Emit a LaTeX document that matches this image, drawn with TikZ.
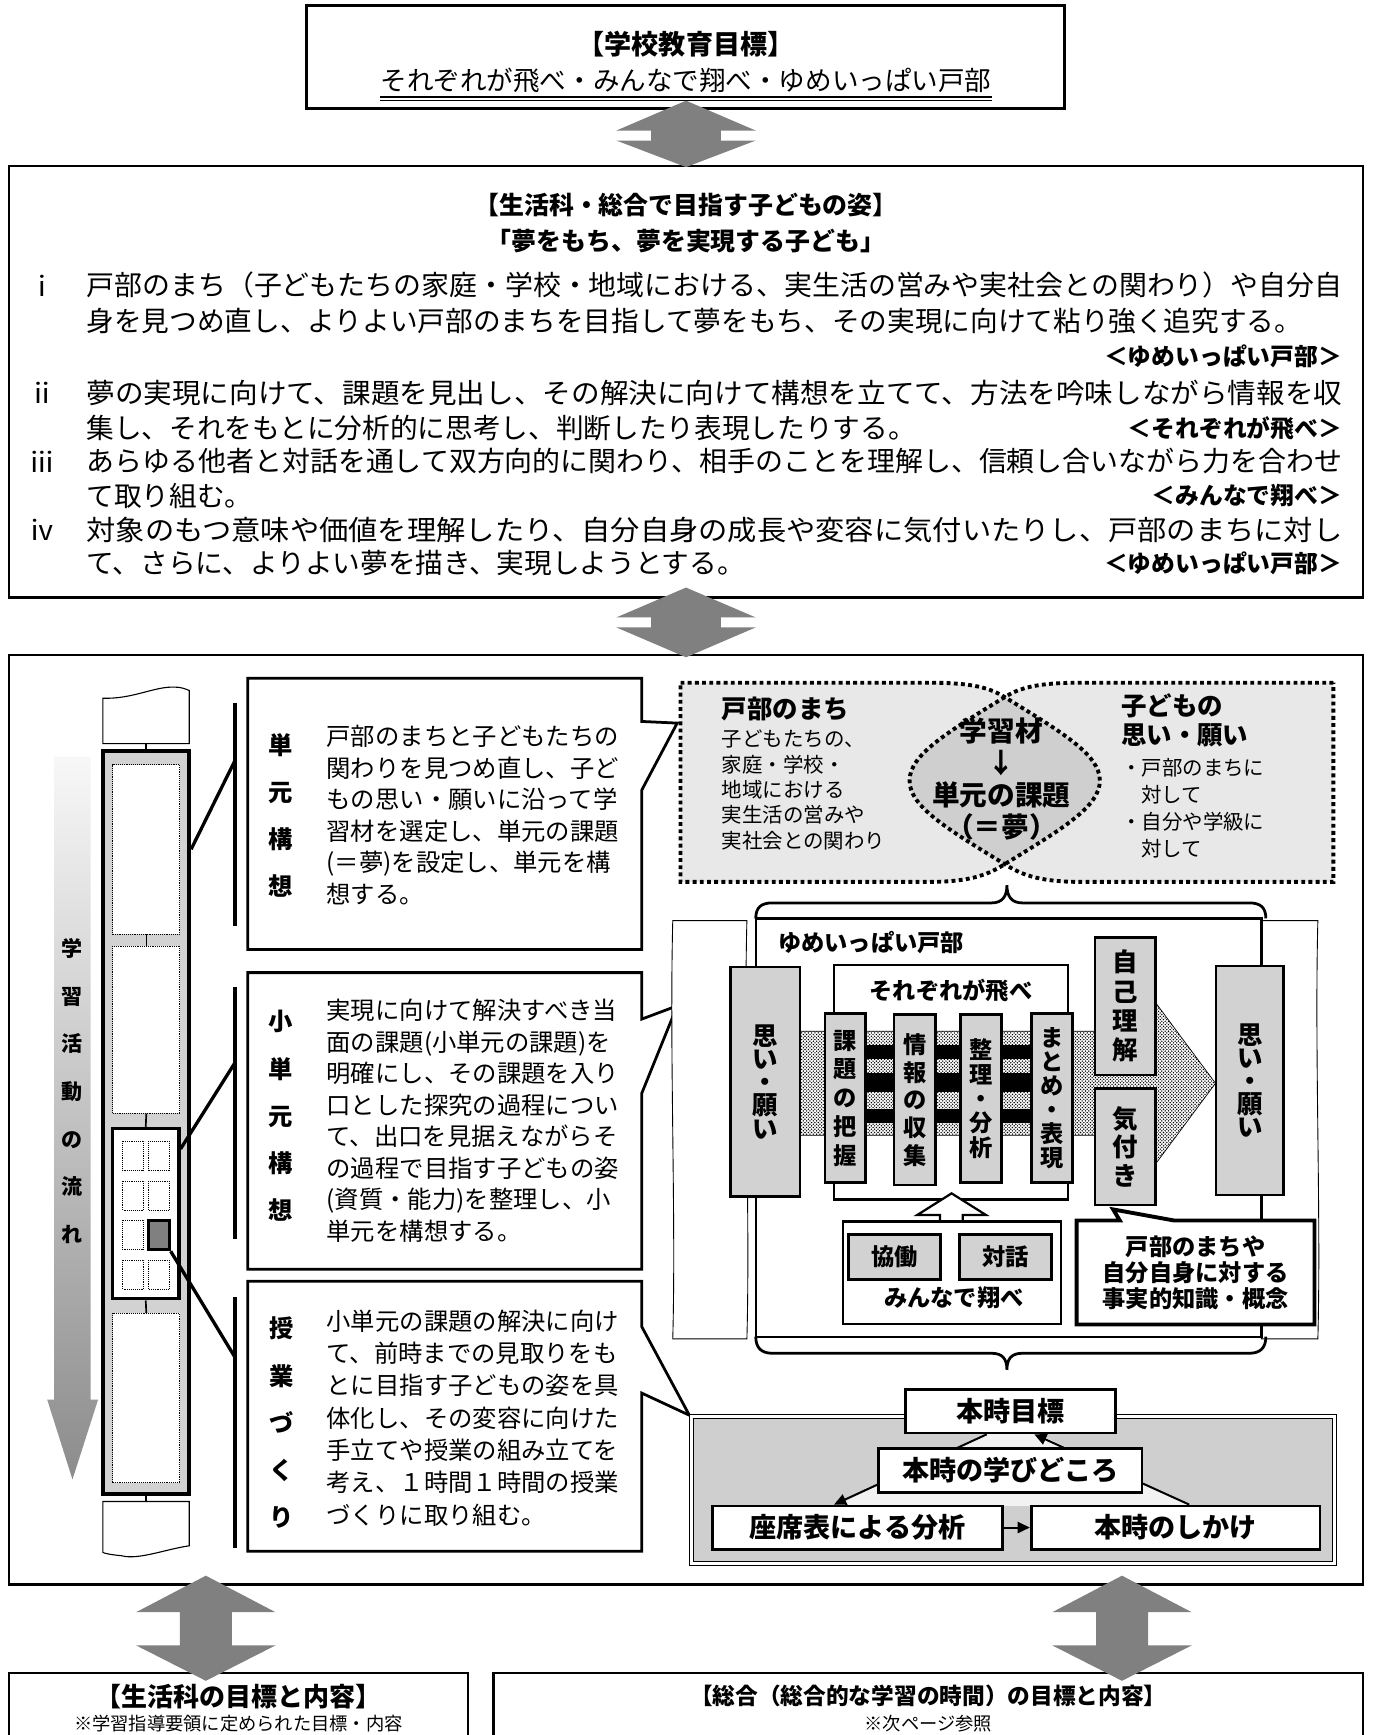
\documentclass[tikz,border=0pt]{standalone}
\usepackage{fontspec}
\usepackage{graphicx}
\setmainfont{Noto Sans CJK JP}
\usetikzlibrary{positioning}
\usetikzlibrary{arrows.meta,shapes}
\usetikzlibrary{patterns}
\usetikzlibrary{calc}
\newcommand{\fsz}[2]{\fontsize{#1pt}{#2pt}\selectfont}
\newcommand{\fullline}[1]{\resizebox{1135pt}{\height}{#1}}
\pgfdeclarepatternformonly{stipple}{\pgfqpoint{-1pt}{-1pt}}{\pgfqpoint{4pt}{4pt}}{\pgfqpoint{3pt}{3pt}}%
{\pgfpathcircle{\pgfqpoint{0pt}{0pt}}{.7pt}\pgfpathcircle{\pgfqpoint{1.5pt}{1.5pt}}{.7pt}\pgfusepath{fill}}

\tikzstyle{bigbox}=[draw,line width=2pt,fill=white,inner sep=0pt]
\tikzstyle{txt}=[inner sep=0pt]
\tikzstyle{bodytext}=[txt,font=\fsz{25}{30}]
\tikzstyle{tagtext}=[txt,font=\bfseries\fsz{21.5}{25}]
\tikzstyle{headtext}=[txt,font=\bfseries\fsz{22.5}{26}]
\tikzstyle{twoway}=[fill=black!50]
\tikzstyle{dotbox}=[draw,densely dotted,line width=0.7pt,fill=white,inner sep=0pt]
\tikzstyle{tiebar}=[draw,line width=3.5pt]
\tikzstyle{callbox}=[draw,line width=2.5pt,fill=white]
\tikzstyle{calltext}=[txt,align=left,font=\fsz{22}{28.5}]
\tikzstyle{vlabel}=[txt,align=center,font=\bfseries\fsz{22}{42.7}]
\tikzstyle{stepbox}=[draw,line width=2.5pt,fill=gray!35,inner sep=0pt,align=center]
\tikzstyle{whitebox}=[draw,line width=2pt,fill=white,inner sep=0pt]
\tikzstyle{cyclenode}=[draw,line width=2.5pt,fill=white,inner sep=0pt,font=\bfseries\fsz{24.5}{28}]
\tikzstyle{cycarrow}=[draw,line width=1.8pt,-{Triangle[length=11pt,width=10pt]}]
\tikzstyle{dotline}=[draw,line width=3.5pt,dash pattern=on 3.5pt off 3pt]

\def\townpath{(615,617) -- (840,617) .. controls (880,617) and (895,622) .. (908,630) .. controls (960,662) and (994,682) .. (994,705.5) .. controls (994,729) and (960,749) .. (908,781) .. controls (895,789) and (880,797) .. (840,797) -- (615,797) -- cycle}
\def\kidpath{(1205,617) -- (976,617) .. controls (936,617) and (921,622) .. (908,630) .. controls (856,662) and (822,682) .. (822,705.5) .. controls (822,729) and (856,749) .. (908,781) .. controls (921,789) and (936,797) .. (976,797) -- (1205,797) -- cycle}

\begin{document}
\begin{tikzpicture}[x=1pt,y=-1pt]
\useasboundingbox (0,0) rectangle (1240,1568);

% school goal
\node[bigbox,minimum width=685pt,minimum height=93pt] (school) at (619.5,51.5) {};
\node[txt,font=\bfseries\fsz{24.5}{28}] (schooltitle) at (620,40) {【学校教育目標】};
\node[txt,font=\fsz{24}{26}] (motto) at (620,73) {それぞれが飛べ・みんなで翔べ・ゆめいっぱい戸部};
\draw[line width=2pt] ([yshift=-3pt]motto.south west) -- ([yshift=-3pt]motto.south east);
\draw[line width=0.8pt] ([yshift=-6.5pt]motto.south west) -- ([yshift=-6.5pt]motto.south east);

% aims of the child
\node[bigbox,minimum width=1224pt,minimum height=390pt] (aim) at (620,345) {};
\node[headtext] (aimtitle) at (620,185) {【生活科・総合で目指す子どもの姿】};
\node[headtext] (aimdream) at (620,218) {「夢をもち、夢を実現する子ども」};
\foreach \y/\name/\mark in {258/m1/ⅰ, 355/m2/ⅱ, 417/m3/ⅲ, 479/m4/ⅳ}
    \node[bodytext] (\name) at (38,\y) {\mark};
\node[bodytext,anchor=west] (a1) at (78,258) {\fullline{戸部のまち（子どもたちの家庭・学校・地域における、実生活の営みや実社会との関わり）や自分自}};
\node[bodytext,anchor=west] (a2) at (78,290) {身を見つめ直し、よりよい戸部のまちを目指して夢をもち、その実現に向けて粘り強く追究する。};
\node[tagtext,anchor=east] (t1) at (1213,322) {＜ゆめいっぱい戸部＞};
\node[bodytext,anchor=west] (b1) at (78,355) {\fullline{夢の実現に向けて、課題を見出し、その解決に向けて構想を立てて、方法を吟味しながら情報を収}};
\node[bodytext,anchor=west] (b2) at (78,387) {集し、それをもとに分析的に思考し、判断したり表現したりする。};
\node[tagtext,anchor=east] (t2) at (1213,387) {＜それぞれが飛べ＞};
\node[bodytext,anchor=west] (c1) at (78,417) {\fullline{あらゆる他者と対話を通して双方向的に関わり、相手のことを理解し、信頼し合いながら力を合わせ}};
\node[bodytext,anchor=west] (c2) at (78,448) {て取り組む。};
\node[tagtext,anchor=east] (t3) at (1213,448) {＜みんなで翔べ＞};
\node[bodytext,anchor=west] (d1) at (78,479) {\fullline{対象のもつ意味や価値を理解したり、自分自身の成長や変容に気付いたりし、戸部のまちに対し}};
\node[bodytext,anchor=west] (d2) at (78,509) {て、さらに、よりよい夢を描き、実現しようとする。};
\node[tagtext,anchor=east] (t4) at (1213,509) {＜ゆめいっぱい戸部＞};

% flow of the unit
\node[bigbox,minimum width=1224pt,minimum height=840pt] (flow) at (620,1012) {};

% subject boxes
\node[bigbox,minimum width=415pt,minimum height=100pt] (life) at (215.5,1562) {};
\node[headtext,font=\bfseries\fsz{23.5}{26}] (lifetitle) at (215.5,1533) {【生活科の目標と内容】};
\node[txt,font=\fsz{16.5}{20}] (lifenote) at (215.5,1558) {※学習指導要領に定められた目標・内容};
\node[bigbox,minimum width=786pt,minimum height=100pt] (sogo) at (839,1562) {};
\node[headtext,font=\bfseries\fsz{20.5}{24}] (sogotitle) at (839,1533) {【総合（総合的な学習の時間）の目標と内容】};
\node[txt,font=\fsz{16.5}{20}] (sogonote) at (839,1558) {※次ページ参照};

% two-way arrows
\foreach \cx/\w/\ya/\yb/\yc/\yd in {620/31.5/91/118/127/151, 620/31.5/531/558/567/594, 186/23.5/1424/1457/1487/1519, 1014/23.5/1424/1457/1487/1519}
    \fill[twoway] (\cx,\ya) -- (\cx+63,\yb) -- (\cx+\w,\yb) -- (\cx+\w,\yc) -- (\cx+63,\yc) -- (\cx,\yd) -- (\cx-63,\yc) -- (\cx-\w,\yc) -- (\cx-\w,\yb) -- (\cx-63,\yb) -- cycle;

% learning flow arrow and the strip of units
\shade[top color=gray!6,bottom color=black!45] (49,684) -- (82,684) -- (82,1265) -- (88.6,1265) -- (65.5,1337) -- (42.7,1265) -- (49,1265) -- cycle;
\node[txt,align=center,font=\bfseries\fsz{19}{43}] (flowlbl) at (65.5,986) {学\\習\\活\\動\\の\\流\\れ};

\draw[line width=1pt,fill=white] (93,672) -- (93,631) .. controls (120,632) and (140,620) .. (158,621) .. controls (165,621) and (168,623) .. (171,624) -- (171,672) -- cycle;
\coordinate (toptab) at (132,672);
\draw[line width=1pt,fill=white] (93,1357) -- (171,1357) -- (171,1397) .. controls (150,1400) and (125,1410) .. (110,1406) .. controls (100,1405) and (95,1404) .. (93,1403) -- cycle;
\coordinate (bottab) at (132,1357);
\node[draw,line width=3.5pt,fill=gray!35,minimum width=78pt,minimum height=671pt,inner sep=0pt] (col) at (132,1014.5) {};
\draw[line width=1.5pt] (toptab) -- (col.north);
\draw[line width=1.5pt] (col.south) -- (bottab);
\node[dotbox,minimum width=60.5pt,minimum height=153pt] (r1) at (132.25,767.5) {};
\node[dotbox,minimum width=60.5pt,minimum height=151pt] (r2) at (132.25,930.5) {};
\node[draw,line width=3pt,fill=white,minimum width=60pt,minimum height=154pt,inner sep=0pt] (fr) at (131.7,1096.8) {};
\node[dotbox,minimum width=60.5pt,minimum height=153pt] (r4) at (132.25,1263.5) {};
\draw[line width=1.5pt] (r1.south) -- (r2.north);
\draw[line width=1.5pt] (r2.south) -- (fr.north);
\draw[line width=1.5pt] (fr.south) -- (r4.north);
\foreach \r in {0,...,3}
    \foreach \c in {0,1}
        \draw[densely dotted,line width=0.7pt] (111+23*\c,1031.6+35.7*\r) rectangle ++(19,26.5);
\node[draw,line width=2.5pt,fill=black!50,minimum width=19pt,minimum height=26.5pt,inner sep=0pt] (hot) at (143.5,1116.3) {};

% bars and callouts
\draw[tiebar] (212,635) -- (212,837);
\draw[tiebar] (212,892) -- (212,1120);
\draw[tiebar] (212,1172) -- (212,1399);
\coordinate (b1) at (212,688);
\coordinate (b2) at (212,961);
\coordinate (b3) at (212,1226);
\draw[line width=3pt] (col.east |- r1.east) -- (b1);
\draw[line width=3pt] ([yshift=-20pt]fr.north east) -- (b2);
\draw[line width=3pt] (hot.south east) -- (b3);

\draw[callbox] (224,613) -- (580,613) -- (580,652) -- (612,653.5) -- (580,714) -- (580,858) -- (224,858) -- cycle;
\draw[callbox] (224,879) -- (580,879) -- (580,921) -- (612,909) -- (580,988) -- (580,1147) -- (224,1147) -- cycle;
\draw[callbox] (224,1158) -- (580,1158) -- (580,1199) -- (623,1279) -- (580,1259) -- (580,1402) -- (224,1402) -- cycle;

\node[vlabel] (unit) at (254,737) {単\\元\\構\\想};
\node[vlabel] (subunit) at (254,1008.5) {小\\単\\元\\構\\想};
\node[vlabel] (lesson) at (255,1286) {授\\業\\づ\\く\\り};
\node[calltext,anchor=west] (unittxt) at (295,736.75) {戸部のまちと子どもたちの\\関わりを見つめ直し、子ど\\もの思い・願いに沿って学\\習材を選定し、単元の課題\\(＝夢)を設定し、単元を構\\想する。};
\node[calltext,anchor=west] (subunittxt) at (295,1012.75) {実現に向けて解決すべき当\\面の課題(小単元の課題)を\\明確にし、その課題を入り\\口とした探究の過程につい\\て、出口を見据えながらそ\\の過程で目指す子どもの姿\\(資質・能力)を整理し、小\\単元を構想する。};
\node[calltext,anchor=west,font=\fsz{22}{29.2}] (lessontxt) at (295,1281.5) {小単元の課題の解決に向け\\て、前時までの見取りをも\\とに目指す子どもの姿を具\\体化し、その変容に向けた\\手立てや授業の組み立てを\\考え、１時間１時間の授業\\づくりに取り組む。};

% town and children
\fill[gray!18] \townpath;
\fill[gray!18] \kidpath;
\begin{scope}
    \clip \townpath;
    \fill[gray!38] \kidpath;
\end{scope}
\draw[dotline] \townpath;
\draw[dotline] \kidpath;
\node[txt,anchor=west,font=\bfseries\fsz{23}{26}] (town) at (652,641) {戸部のまち};
\node[txt,anchor=west,align=left,font=\fsz{18.5}{23}] (towntxt) at (652,714) {子どもたちの、\\家庭・学校・\\地域における\\実生活の営みや\\実社会との関わり};
\node[txt,align=center,font=\bfseries\fsz{25}{28.7}] (lens) at (905,704) {学習材\\↓\\単元の課題\\（＝夢）};
\node[txt,anchor=west,align=left,font=\bfseries\fsz{23}{26}] (kid) at (1013,651) {子どもの\\思い・願い};
\node[txt,anchor=west,align=left,font=\fsz{18.5}{24.3}] (kidtxt) at (1013,730.5) {・戸部のまちに\\\hspace*{18pt}対して\\・自分や学級に\\\hspace*{18pt}対して};

% yume ippai tobe
\draw[line width=2.5pt] (683,830) .. controls (683,820) and (688,816) .. (698,816) -- (896,816) .. controls (906,816) and (910,810) .. (910,800) .. controls (910,810) and (914,816) .. (924,816) -- (1129,816) .. controls (1139,816) and (1144,820) .. (1144,830);
\draw[line width=0.8pt,fill=white] (608,832) -- (675,832) .. controls (672,950) and (678,1100) .. (675,1210) -- (608,1210) .. controls (611,1100) and (605,950) .. (608,832) -- cycle;
\draw[line width=0.8pt,fill=white] (1140,832) -- (1191,832) .. controls (1188,950) and (1194,1100) .. (1191,1210) -- (1140,1210) -- cycle;
\node[whitebox,minimum width=457pt,minimum height=378pt] (yume) at (911.5,1019) {};
\node[txt,anchor=west,font=\bfseries\fsz{21}{24}] (yumetitle) at (703,852) {ゆめいっぱい戸部};
\node[whitebox,minimum width=211pt,minimum height=212pt] (each) at (859.5,978) {};
\node[txt,font=\bfseries\fsz{21}{24}] (eachtitle) at (859.5,895) {それぞれが飛べ};
\fill[white] (723,932) -- (1045,932) -- (1045,907) -- (1098.5,979) -- (1045,1051) -- (1045,1026) -- (723,1026) -- cycle;
\draw[line width=0.6pt,pattern=stipple] (723,932) -- (1045,932) -- (1045,907) -- (1098.5,979) -- (1045,1051) -- (1045,1026) -- (723,1026) -- cycle;
\fill[black] (782.5,944) rectangle (932,957);
\fill[black] (782.5,970) rectangle (932,987);
\fill[black] (782.5,1002) rectangle (932,1015);
\node[stepbox,minimum width=63pt,minimum height=207pt,font=\bfseries\fsz{23}{21}] (wish1) at (691.5,977.5) {思\\い\\・\\願\\い};
\node[stepbox,minimum width=37pt,minimum height=153pt,font=\bfseries\fsz{21}{26}] (s1) at (764,992.5) {課\\題\\の\\把\\握};
\node[stepbox,minimum width=37.5pt,minimum height=154pt,font=\bfseries\fsz{21}{25}] (s2) at (826.75,994) {情\\報\\の\\収\\集};
\node[stepbox,minimum width=37pt,minimum height=152pt,font=\bfseries\fsz{21}{22}] (s3) at (886.5,993) {整\\理\\・\\分\\析};
\node[stepbox,minimum width=37pt,minimum height=153pt,font=\bfseries\fsz{21}{21.6}] (s4) at (950.5,992.5) {ま\\と\\め\\・\\表\\現};
\node[stepbox,minimum width=54.5pt,minimum height=124.5pt,font=\bfseries\fsz{23}{26.5}] (self) at (1016.75,909.25) {自\\己\\理\\解};
\node[stepbox,minimum width=54.5pt,minimum height=105pt,font=\bfseries\fsz{23}{26}] (aware) at (1016.75,1036.5) {気\\付\\き};
\node[stepbox,minimum width=61pt,minimum height=207pt,font=\bfseries\fsz{23}{21}] (wish2) at (1129.5,976.5) {思\\い\\・\\願\\い};

\draw[line width=2pt,fill=white] (860,1078.5) -- (891,1098) -- (870,1098) -- (870,1106) -- (849.6,1106) -- (849.6,1098) -- (829,1098) -- cycle;
\node[whitebox,minimum width=197pt,minimum height=92.5pt] (minna) at (860.5,1150.25) {};
\node[stepbox,minimum width=83pt,minimum height=40pt,font=\bfseries\fsz{21}{24}] (kyo) at (808.5,1136) {協働};
\node[stepbox,minimum width=83pt,minimum height=40pt,font=\bfseries\fsz{21}{24}] (dia) at (908.5,1136) {対話};
\node[txt,font=\bfseries\fsz{21}{24}] (minnatitle) at (862,1173) {みんなで翔べ};

\draw[line width=3.5pt,fill=white] (973,1103) -- (1012,1103) -- (1006,1093) -- (1061,1103) -- (1188,1103) -- (1188,1197) -- (973,1197) -- cycle;
\node[txt,align=center,font=\bfseries\fsz{21}{23.5}] (fact) at (1080.5,1150) {戸部のまちや\\自分自身に対する\\事実的知識・概念};

\draw[line width=2.5pt] (683,1208) .. controls (683,1218) and (688,1223) .. (698,1223) -- (896,1223) .. controls (906,1223) and (910,1228) .. (910,1238) .. controls (910,1228) and (914,1223) .. (924,1223) -- (1129,1223) .. controls (1139,1223) and (1144,1218) .. (1144,1208);

% this lesson
\node[draw,double,double distance=2.5pt,line width=1pt,fill=gray!38,minimum width=581pt,minimum height=133pt,inner sep=0pt] (cyclebox) at (915.5,1346.5) {};
\fill[gray!10] (893,1295) -- (936,1295) -- (1076,1361) -- (755,1361) -- cycle;
\node[cyclenode,minimum width=190pt,minimum height=39pt] (goal) at (913,1275.5) {本時目標};
\node[cyclenode,minimum width=262pt,minimum height=39pt] (seat) at (775,1380.5) {座席表による分析};
\node[cyclenode,minimum width=261pt,minimum height=39pt] (trick) at (1062.5,1380.5) {本時のしかけ};
\draw[cycarrow] ([xshift=75pt]goal.south west) -- ([xshift=111pt]seat.north west);
\draw[cycarrow] ([xshift=144pt]trick.north west) -- ([xshift=118pt]goal.south west);
\draw[cycarrow] (seat.east) -- (trick.west);
\node[cyclenode,minimum width=238pt,minimum height=40pt] (point) at (913,1329) {本時の学びどころ};

\end{tikzpicture}
\end{document}
